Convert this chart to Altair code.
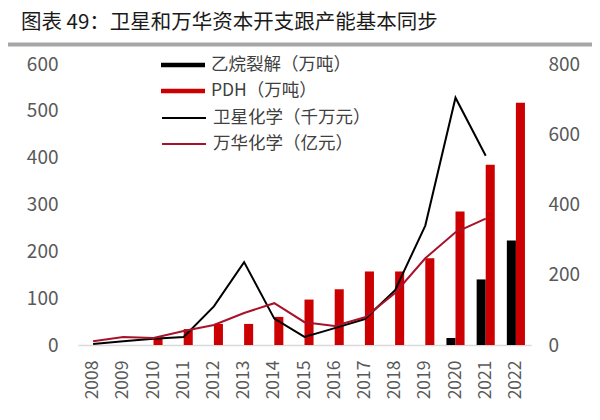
import altair as alt
import pandas as pd

years = [str(y) for y in range(2008, 2023)]
bar_names = ["乙烷裂解（万吨）", "PDH（万吨）"]
line_names = ["卫星化学（千万元）", "万华化学（亿元）"]

ethane = [None, None, None, None, None, None, None, None, None, None, None, None, 15, 140, 223]
pdh = [None, None, 16, 34, 45, 45, 60, 97, 119, 157, 157, 185, 285, 385, 517]
satellite = [3, 11, 18, 23, 110, 236, 75, 23, 48, 74, 156, 340, 704, 539, None]
wanhua = [11, 23, 20, 40, 57, 91, 119, 65, 54, 79, 148, 247, 321, 360, None]

left_ticks = [0, 100, 200, 300, 400, 500, 600]
right_ticks = [0, 200, 400, 600, 800]

bar_colors = ["#000000", "#CC0000"]
line_colors = ["#000000", "#A8122A"]

FONT = "Noto Sans CJK SC"

bar_rows = []
for yr, e, p in zip(years, ethane, pdh):
    if e is not None:
        bar_rows.append({"year": yr, "series": bar_names[0], "value": e})
    if p is not None:
        bar_rows.append({"year": yr, "series": bar_names[1], "value": p})
bar_df = pd.DataFrame(bar_rows)

line_rows = []
for yr, s, w in zip(years, satellite, wanhua):
    if s is not None:
        line_rows.append({"year": yr, "series": line_names[0], "value": s})
    if w is not None:
        line_rows.append({"year": yr, "series": line_names[1], "value": w})
line_df = pd.DataFrame(line_rows)

x_scale = alt.Scale(domain=years, paddingInner=0.4, paddingOuter=0.2)
x_axis = alt.Axis(
    title=None, labelAngle=-90, labelFontSize=17.5, labelColor="#595959", labelFont=FONT,
    domainColor="#D9D9D9", domainWidth=1.5, ticks=False, labelPadding=15, grid=False,
)

bars = alt.Chart(bar_df).mark_bar().encode(
    x=alt.X("year:N", scale=x_scale, axis=x_axis, sort=years),
    xOffset=alt.XOffset("series:N", scale=alt.Scale(domain=bar_names)),
    y=alt.Y("value:Q", scale=alt.Scale(domain=[0, 600], nice=False),
            axis=alt.Axis(orient="left", title=None, values=left_ticks, domain=False, ticks=False,
                          grid=False, labelFontSize=19, labelColor="#595959", labelFont=FONT,
                          labelPadding=20)),
    fill=alt.Fill("series:N", scale=alt.Scale(domain=bar_names, range=bar_colors),
                  legend=alt.Legend(orient="none", legendX=83, legendY=-12, title=None,
                                    symbolType="M-1,-0.1H1V0.1H-1Z", symbolSize=1936,
                                    symbolStrokeWidth=0, clipHeight=26, rowPadding=0, padding=0,
                                    labelFontSize=17.5, labelColor="#404040", labelFont=FONT,
                                    labelOffset=6, symbolOpacity=1)),
)

lines = alt.Chart(line_df).mark_line(strokeWidth=2).encode(
    x=alt.X("year:N", scale=x_scale, axis=x_axis, sort=years),
    y=alt.Y("value:Q", scale=alt.Scale(domain=[0, 800], nice=False),
            axis=alt.Axis(orient="right", title=None, values=right_ticks, domain=False, ticks=False,
                          grid=False, labelFontSize=19, labelColor="#595959", labelFont=FONT,
                          labelPadding=17)),
    stroke=alt.Stroke("series:N", scale=alt.Scale(domain=line_names, range=line_colors),
                      legend=alt.Legend(orient="none", legendX=83, legendY=41, title=None,
                                        symbolType="stroke", symbolSize=1936, symbolStrokeWidth=2,
                                        clipHeight=26, rowPadding=0, padding=0,
                                        labelFontSize=17.5, labelColor="#404040", labelFont=FONT,
                                        labelOffset=6)),
)

sep = alt.Chart(pd.DataFrame({"k": [0]})).mark_rule(color="#A6A6A6", strokeWidth=4).encode(
    x=alt.value(-70), x2=alt.value(514), y=alt.value(-19.5)
)

chart = alt.layer(sep, bars, lines).resolve_scale(y="independent").properties(
    width=453, height=281,
    padding={"left": 70, "top": 56, "right": 61, "bottom": 67},
    autosize=alt.AutoSizeParams(type="none"),
    title=alt.TitleParams("图表 49：卫星和万华资本开支跟产能基本同步", anchor="start", frame="bounds",
                          dx=15, offset=9, fontSize=20.5, font=FONT, fontWeight="normal",
                          color="#1A1A1A"),
).configure_view(stroke=None)

chart.save("out.html", embed_options={"renderer": "svg", "actions": False})
